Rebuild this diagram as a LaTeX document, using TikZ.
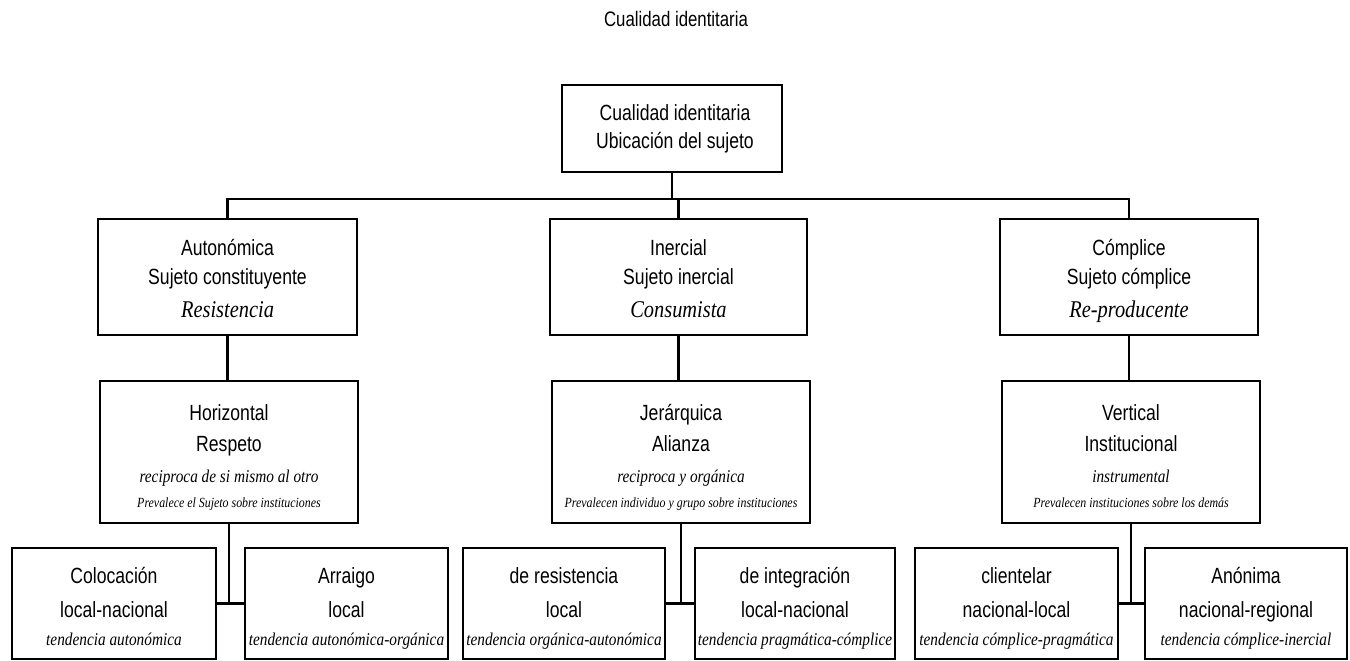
\documentclass[tikz,border=0pt]{standalone}
\usepackage{fontspec}
\newfontfamily\sansn[FakeStretch=0.8]{Liberation Sans}
\newfontfamily\serin[FakeStretch=0.85]{Liberation Serif}
\begin{document}
\begin{tikzpicture}[x=1pt,y=-1pt,
  box/.style={draw, line width=2.2pt, inner sep=0pt},
  conn/.style={line width=2.2pt},
  sn/.style={anchor=base, inner sep=0pt, font=\sansn\fontsize{22}{26}\selectfont},
  ia/.style={anchor=base, inner sep=0pt, font=\serin\itshape\fontsize{24}{28}\selectfont},
  ib/.style={anchor=base, inner sep=0pt, font=\serin\itshape\fontsize{18}{22}\selectfont},
  ic/.style={anchor=base, inner sep=0pt, font=\serin\itshape\fontsize{14}{17}\selectfont},
]
\useasboundingbox (0,0) rectangle (1350,661);

% title
\node[sn, font=\sansn\fontsize{21}{25}\selectfont] (title) at (676,27) {Cualidad identitaria};

% top box
\node[box, minimum width=220pt, minimum height=87pt] (top) at (672,128.5) {};
\node[sn] (top1) at (675,120) {Cualidad identitaria};
\node[sn] (top2) at (675,148) {Ubicación del sujeto};

% level 1
\node[box, minimum width=259pt, minimum height=116pt] (auto) at (227.5,277) {};
\node[sn] (auto1) at (227.5,255) {Autonómica};
\node[sn] (auto2) at (227.5,284) {Sujeto constituyente};
\node[ia] (auto3) at (227.5,317) {Resistencia};

\node[box, minimum width=257pt, minimum height=116pt] (inerc) at (678.5,277) {};
\node[sn] (inerc1) at (678.5,255) {Inercial};
\node[sn] (inerc2) at (678.5,284) {Sujeto inercial};
\node[ia] (inerc3) at (678.5,317) {Consumista};

\node[box, minimum width=258pt, minimum height=116pt] (compl) at (1129,277) {};
\node[sn] (compl1) at (1129,255) {Cómplice};
\node[sn] (compl2) at (1129,284) {Sujeto cómplice};
\node[ia] (compl3) at (1129,317) {Re-producente};

% level 2
\node[box, minimum width=258pt, minimum height=142pt] (horiz) at (229,452) {};
\node[sn] (horiz1) at (229,420) {Horizontal};
\node[sn] (horiz2) at (229,451) {Respeto};
\node[ib] (horiz3) at (229,482) {reciproca de si mismo al otro};
\node[ic] (horiz4) at (229,507) {Prevalece el Sujeto sobre instituciones};

\node[box, minimum width=258pt, minimum height=142pt] (jerar) at (681,452) {};
\node[sn] (jerar1) at (681,420) {Jerárquica};
\node[sn] (jerar2) at (681,451) {Alianza};
\node[ib] (jerar3) at (681,482) {reciproca y orgánica};
\node[ic] (jerar4) at (681,507) {Prevalecen individuo y grupo sobre instituciones};

\node[box, minimum width=258pt, minimum height=142pt] (vert) at (1131,452) {};
\node[sn] (vert1) at (1131,420) {Vertical};
\node[sn] (vert2) at (1131,451) {Institucional};
\node[ib] (vert3) at (1131,482) {instrumental};
\node[ic] (vert4) at (1131,507) {Prevalecen instituciones sobre los demás};

% level 3
\node[box, minimum width=204pt, minimum height=111pt] (coloc) at (114,603.5) {};
\node[sn] (coloc1) at (114,583) {Colocación};
\node[sn] (coloc2) at (114,617) {local-nacional};
\node[ib] (coloc3) at (114,645) {tendencia autonómica};

\node[box, minimum width=203pt, minimum height=111pt] (arrai) at (346.5,603.5) {};
\node[sn] (arrai1) at (346.5,583) {Arraigo};
\node[sn] (arrai2) at (346.5,617) {local};
\node[ib] (arrai3) at (346.5,645) {tendencia autonómica-orgánica};

\node[box, minimum width=202pt, minimum height=111pt] (resis) at (564,603.5) {};
\node[sn] (resis1) at (564,583) {de resistencia};
\node[sn] (resis2) at (564,617) {local};
\node[ib] (resis3) at (564,645) {tendencia orgánica-autonómica};

\node[box, minimum width=200pt, minimum height=111pt] (integ) at (795,603.5) {};
\node[sn] (integ1) at (795,583) {de integración};
\node[sn] (integ2) at (795,617) {local-nacional};
\node[ib] (integ3) at (795,645) {tendencia pragmática-cómplice};

\node[box, minimum width=203pt, minimum height=111pt] (clien) at (1016.5,603.5) {};
\node[sn] (clien1) at (1016.5,583) {clientelar};
\node[sn] (clien2) at (1016.5,617) {nacional-local};
\node[ib] (clien3) at (1016.5,645) {tendencia cómplice-pragmática};

\node[box, minimum width=202pt, minimum height=111pt] (anon) at (1246,603.5) {};
\node[sn] (anon1) at (1246,583) {Anónima};
\node[sn] (anon2) at (1246,617) {nacional-regional};
\node[ib] (anon3) at (1246,645) {tendencia cómplice-inercial};

% connectors
\coordinate (bus) at (672,199);
\draw[conn] (top.south) -- (top.south |- bus);
\draw[conn] (auto.north) |- (bus) -| (compl.north);
\draw[conn] (inerc.north) -- (inerc.north |- bus);

\draw[conn] (auto.south) -- (auto.south |- horiz.north);
\draw[conn] (inerc.south) -- (inerc.south |- jerar.north);
\draw[conn] (compl.south) -- (compl.south |- vert.north);

\draw[conn] (horiz.south) -- (horiz.south |- coloc.east);
\draw[conn] (coloc.east) -- (arrai.west);
\draw[conn] (jerar.south) -- (jerar.south |- resis.east);
\draw[conn] (resis.east) -- (integ.west);
\draw[conn] (vert.south) -- (vert.south |- clien.east);
\draw[conn] (clien.east) -- (anon.west);
\end{tikzpicture}
\end{document}
